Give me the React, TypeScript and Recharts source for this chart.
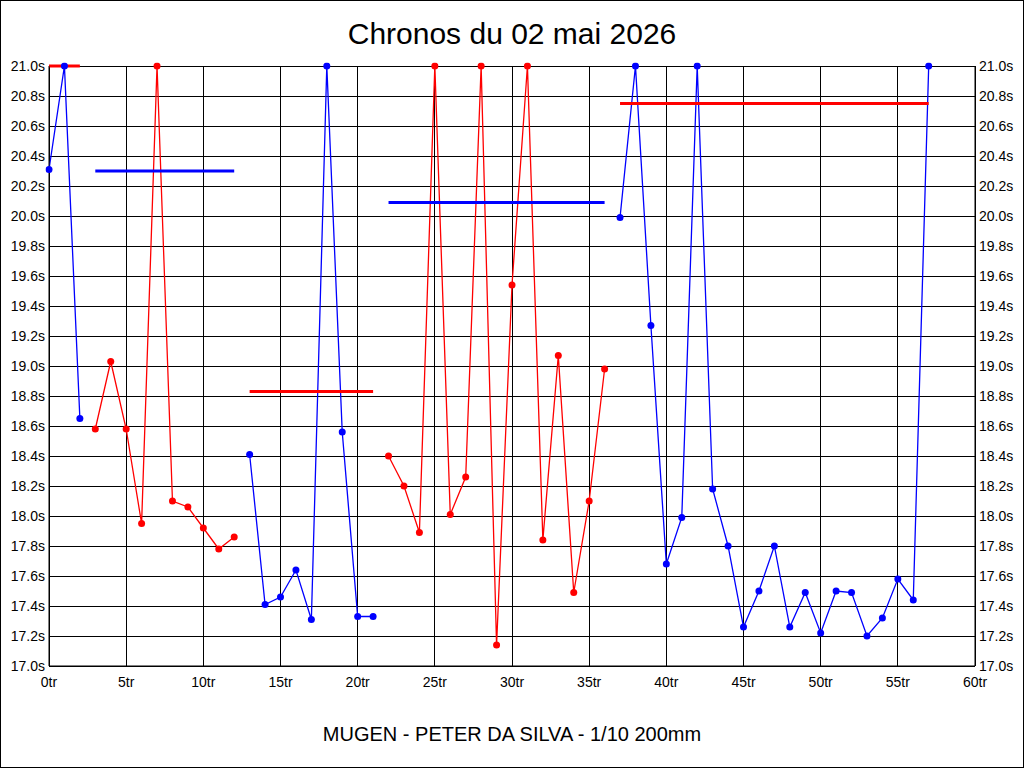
import React from 'react';
import { ComposedChart, Line, XAxis, YAxis, CartesianGrid, ReferenceLine } from 'recharts';

// lap times in seconds, lap 0..57 (values above 21s are shown capped at 21.0)
const lapTimes = [
    20.31, 21.0, 18.65,
    18.58, 19.03, 18.58, 17.95, 21.0, 18.10, 18.06, 17.92, 17.78, 17.86,
    18.41, 17.41, 17.46, 17.64, 17.31, 21.0, 18.56, 17.33, 17.33,
    18.40, 18.20, 17.89, 21.0, 18.01, 18.26, 21.0, 17.14, 19.54, 21.0, 17.84, 19.07, 17.49, 18.10, 18.98,
    19.99, 21.0, 19.27, 17.68, 17.99, 21.0, 18.18, 17.80, 17.26, 17.50, 17.80, 17.26, 17.49, 17.22, 17.50, 17.49, 17.20, 17.32, 17.58, 17.44, 21.0,
];

// stints (first / last lap)
const stintStart = [0, 3, 13, 22, 37];
const stintEnd = [2, 12, 21, 36, 57];

// horizontal average lines
const avgFrom = [0, 3, 13, 22, 37];
const avgTo = [2, 12, 21, 36, 57];
const avgValue = [21.0, 20.3, 18.83, 20.09, 20.75];

const xTicks = [0, 5, 10, 15, 20, 25, 30, 35, 40, 45, 50, 55, 60];
const yTicks = [17.0, 17.2, 17.4, 17.6, 17.8, 18.0, 18.2, 18.4, 18.6, 18.8, 19.0, 19.2, 19.4, 19.6, 19.8, 20.0, 20.2, 20.4, 20.6, 20.8, 21.0];

const BLUE = '#0000ff';
const RED = '#ff0000';
const stintColor = (i: number) => (i % 2 === 0 ? BLUE : RED);
const avgColor = (i: number) => (i % 2 === 0 ? RED : BLUE);

const FONT = '"Liberation Sans", Arial, sans-serif';

const chartData = lapTimes.map((t, lap) => {
    const row: Record<string, number | null> = { lap };
    stintStart.forEach((s, i) => {
        row['s' + i] = lap >= s && lap <= stintEnd[i] ? t : null;
    });
    return row;
});

export default function App() {
    const tickStyle = { fill: '#000', fontSize: 14, fontFamily: FONT };

    return (
        <div
            style={{
                position: 'absolute',
                top: 0,
                left: 0,
                width: 1024,
                height: 768,
                background: '#fff',
                border: '1px solid #000',
                boxSizing: 'border-box',
                fontFamily: FONT,
            }}
        >
            <style>{`.recharts-cartesian-grid line { shape-rendering: crispEdges; }`}</style>
            <div style={{ position: 'absolute', top: 15, left: 0, width: 1022, textAlign: 'center', fontSize: 30, lineHeight: '36px', color: '#000' }}>
                Chronos du 02 mai 2026
            </div>
            <div style={{ position: 'absolute', top: 721, left: 0, width: 1022, textAlign: 'center', fontSize: 20, lineHeight: '24px', color: '#000' }}>
                MUGEN - PETER DA SILVA - 1/10 200mm
            </div>
            <div style={{ position: 'absolute', top: -1, left: -1 }}>
                <ComposedChart width={1024} height={768} data={chartData} margin={{ top: 66, right: 0, bottom: 72, left: 0 }}>
                    <CartesianGrid yAxisId="left" stroke="#000" strokeWidth={1} />
                    <XAxis
                        dataKey="lap"
                        type="number"
                        domain={[0, 60]}
                        ticks={xTicks}
                        interval={0}
                        tickFormatter={(v) => `${v}tr`}
                        tick={tickStyle}
                        tickLine={false}
                        tickSize={0}
                        tickMargin={11}
                        height={30}
                        axisLine={{ stroke: '#000' }}
                    />
                    <YAxis
                        yAxisId="left"
                        orientation="left"
                        type="number"
                        domain={[17, 21]}
                        ticks={yTicks}
                        interval={0}
                        allowDataOverflow
                        tickFormatter={(v) => `${v.toFixed(1)}s`}
                        tick={tickStyle}
                        tickLine={false}
                        tickSize={0}
                        tickMargin={4}
                        width={49}
                        axisLine={{ stroke: '#000' }}
                    />
                    <YAxis
                        yAxisId="right"
                        orientation="right"
                        type="number"
                        domain={[17, 21]}
                        ticks={yTicks}
                        interval={0}
                        allowDataOverflow
                        tickFormatter={(v) => `${v.toFixed(1)}s`}
                        tick={tickStyle}
                        tickLine={false}
                        tickSize={0}
                        tickMargin={4}
                        width={49}
                        axisLine={{ stroke: '#000' }}
                    />
                    {stintStart.map((_, i) => (
                        <Line
                            key={'s' + i}
                            yAxisId="left"
                            type="linear"
                            dataKey={'s' + i}
                            stroke={stintColor(i)}
                            strokeWidth={1.3}
                            dot={{ r: 3.5, fill: stintColor(i), stroke: stintColor(i), strokeWidth: 0, clipDot: false }}
                            connectNulls={false}
                            isAnimationActive={false}
                        />
                    ))}
                    {avgValue.map((v, i) => (
                        <ReferenceLine
                            key={'avg' + i}
                            yAxisId="left"
                            segment={[{ x: avgFrom[i], y: v }, { x: avgTo[i], y: v }]}
                            stroke={avgColor(i)}
                            strokeWidth={3}
                            ifOverflow="visible"
                        />
                    ))}
                </ComposedChart>
            </div>
        </div>
    );
}
